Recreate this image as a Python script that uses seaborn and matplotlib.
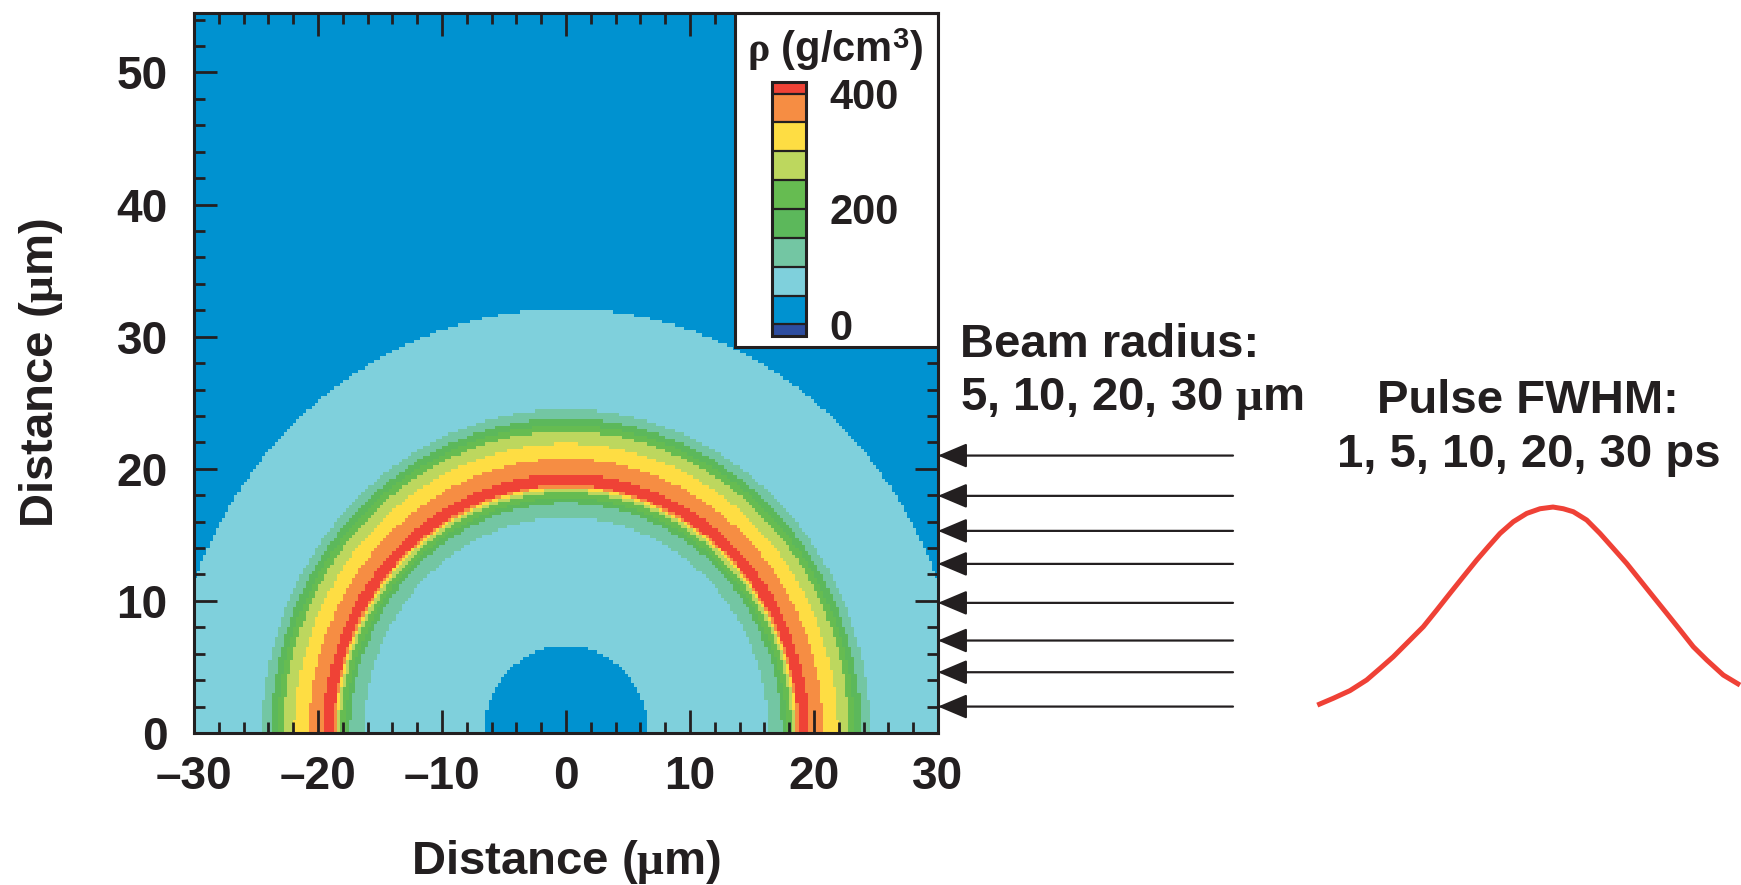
import numpy as np
import matplotlib
matplotlib.use("Agg")
import matplotlib.pyplot as plt
import seaborn as sns
from matplotlib.colors import ListedColormap, BoundaryNorm
from matplotlib.patches import Rectangle
from matplotlib.ticker import MultipleLocator

# ---------------- data ----------------
# radial density profile of the compressed shell (radius in um, density in g/cm^3)
radius_um = [0.0, 6.6, 12.0, 16.3, 17.4, 17.8, 18.2, 18.45, 18.6, 18.75,
             19.15, 19.6, 20.75, 21.9, 22.8, 23.3, 23.8, 24.5, 28.0, 32.1, 40.0, 60.0]
density_gcc = [35, 50, 75, 100, 150, 200, 250, 300, 350, 400,
               440, 400, 350, 300, 250, 200, 150, 100, 75, 50, 30, 20]

level_bounds = [0, 50, 100, 150, 200, 250, 300, 350, 400]
band_colors = ["#0092D0", "#7FD0DC", "#73C6A3", "#5CB85B",
               "#66BC51", "#BDD75E", "#FEDD43", "#F68D43"]
under_color = "#2E4D9F"
over_color = "#EF4236"
cbar_ticks = [0, 200, 400]

x_ticks = [-30, -20, -10, 0, 10, 20, 30]
x_tick_labels = ["\u201330", "\u201320", "\u201310", "0", "10", "20", "30"]
y_ticks = [0, 10, 20, 30, 40, 50]

# heights (um) of the incoming beam rays
beam_rays_um = [21.0, 17.95, 15.3, 12.8, 9.85, 7.0, 4.6, 2.0]

# laser pulse shape (time relative to peak, normalized intensity)
pulse_time = [-2.357, -2.197, -2.03, -1.863, -1.73, -1.597, -1.463, -1.297,
              -1.163, -1.03, -0.897, -0.763, -0.647, -0.53, -0.397, -0.263,
              -0.13, 0.0, 0.103, 0.203, 0.337, 0.47, 0.603, 0.737, 0.87,
              1.003, 1.137, 1.27, 1.403, 1.537, 1.703, 1.87]
pulse_intensity = [0.070, 0.102, 0.138, 0.188, 0.242, 0.297, 0.360, 0.438,
                   0.516, 0.595, 0.673, 0.751, 0.814, 0.876, 0.931, 0.970,
                   0.992, 1.0, 0.992, 0.978, 0.939, 0.876, 0.806, 0.735, 0.657,
                   0.579, 0.501, 0.423, 0.344, 0.282, 0.211, 0.164]

# ---------------- style ----------------
W, H, DPI = 1741, 885, 100
INK = "#231F20"

sns.set_theme(style="ticks")
plt.rcParams.update({
    "font.family": ["Liberation Sans", "DejaVu Sans"],
    "font.weight": "bold",
    "mathtext.fontset": "custom",
    "mathtext.rm": "Liberation Serif",
    "mathtext.bf": "Liberation Sans:bold",
    "mathtext.default": "rm",
    "text.color": INK,
    "axes.edgecolor": INK,
    "axes.labelcolor": INK,
    "xtick.color": INK,
    "ytick.color": INK,
    "axes.labelweight": "bold",
})


def fx(px):
    return px / W


def fy(py):
    return 1 - py / H


fig = plt.figure(figsize=(W / DPI, H / DPI), dpi=DPI)
fig.patch.set_facecolor("white")

ax = fig.add_axes([fx(194), fy(733), (938 - 194) / W, (733 - 13) / H])
ax.set_axisbelow(False)

# density map on a regular grid
cmap = ListedColormap(band_colors)
cmap.set_under(under_color)
cmap.set_over(over_color)
norm = BoundaryNorm(level_bounds, cmap.N)

cell = 0.25
xe = np.arange(-30, 30 + cell / 2, cell)
ye = np.arange(0, 55 + cell / 2, cell)
xc = 0.5 * (xe[:-1] + xe[1:])
yc = 0.5 * (ye[:-1] + ye[1:])
XC, YC = np.meshgrid(xc, yc)
rho = np.interp(np.hypot(XC, YC), radius_um, density_gcc)
mesh = ax.pcolormesh(xe, ye, rho, cmap=cmap, norm=norm, shading="flat",
                     antialiased=False, rasterized=True, zorder=1)

ax.set_xlim(-30, 30)
ax.set_ylim(0, 54.5)
ax.set_xticks(x_ticks, x_tick_labels)
ax.set_yticks(y_ticks)
ax.xaxis.set_minor_locator(MultipleLocator(2))
ax.yaxis.set_minor_locator(MultipleLocator(2))
ax.tick_params(which="both", direction="in", top=True, right=True, width=2.0,
               color=INK)
ax.tick_params(which="major", length=16.5, labelsize=33)
ax.tick_params(which="minor", length=8)
ax.tick_params(axis="x", which="major", pad=16)
ax.tick_params(axis="y", which="major", pad=19)
for s in ax.spines.values():
    s.set_linewidth(2.2)
    s.set_zorder(5)

ax.set_xlabel(r"Distance ($\mu$m)", fontsize=34)
ax.set_ylabel(r"Distance ($\mu$m)", fontsize=34)
ax.xaxis.set_label_coords(0.5, (733 - 838) / 720)
ax.yaxis.set_label_coords((65 - 194) / 744, 0.5)

# white legend panel in the upper-right corner
ax.add_patch(Rectangle((0.727, 0.536), 0.273, 0.464, transform=ax.transAxes,
                       facecolor="white", edgecolor=INK, linewidth=2.2, zorder=4))

cax = fig.add_axes([fx(772), fy(336), 34 / W, (336 - 82) / H])
cb = fig.colorbar(mesh, cax=cax, extend="both", extendrect=True, extendfrac=0.05,
                  drawedges=True, ticks=cbar_ticks)
cb.outline.set_linewidth(2.2)
cb.outline.set_edgecolor(INK)
cb.dividers.set_linewidth(1.6)
cb.dividers.set_color(INK)
cax.minorticks_off()
cax.tick_params(which="both", length=0, labelsize=30, pad=17)
fig.text(fx(835), fy(62), r"$\rho$ (g/cm$^{\mathbf{3}}$)", ha="center",
         va="baseline", fontsize=30)

# incoming beam rays
ray_tail = (1233 - 194) / 744
for yr in beam_rays_um:
    ax.annotate("", xy=(1.0, yr), xycoords=ax.get_yaxis_transform(),
                xytext=(ray_tail, yr), textcoords=ax.get_yaxis_transform(),
                annotation_clip=False,
                arrowprops=dict(arrowstyle="-|>,head_length=0.9,head_width=0.38",
                                mutation_scale=20, lw=1.6, color=INK,
                                shrinkA=0, shrinkB=0))

fig.text(fx(960), fy(357), "Beam radius:", ha="left", va="baseline", fontsize=34)
fig.text(fx(960), fy(410), r"5, 10, 20, 30 $\mu$m", ha="left", va="baseline",
         fontsize=34)
fig.text(fx(1528), fy(413), "Pulse FWHM:", ha="center", va="baseline", fontsize=34)
fig.text(fx(1529), fy(467), "1, 5, 10, 20, 30 ps", ha="center", va="baseline",
         fontsize=34)

# pulse shape
pax = fig.add_axes([fx(1300), fy(720), 441 / W, 240 / H])
sns.lineplot(x=pulse_time, y=pulse_intensity, ax=pax, color="#EF4136",
             linewidth=3.6, sort=False)
for ln in pax.lines:
    ln.set_clip_on(False)
    ln.set_solid_capstyle("butt")
    ln.set_solid_joinstyle("round")
pax.set_xlim(-2.53, 1.88)
pax.set_ylim(0, 1.127)
pax.axis("off")

fig.savefig("out.png", dpi=DPI, facecolor="white")
